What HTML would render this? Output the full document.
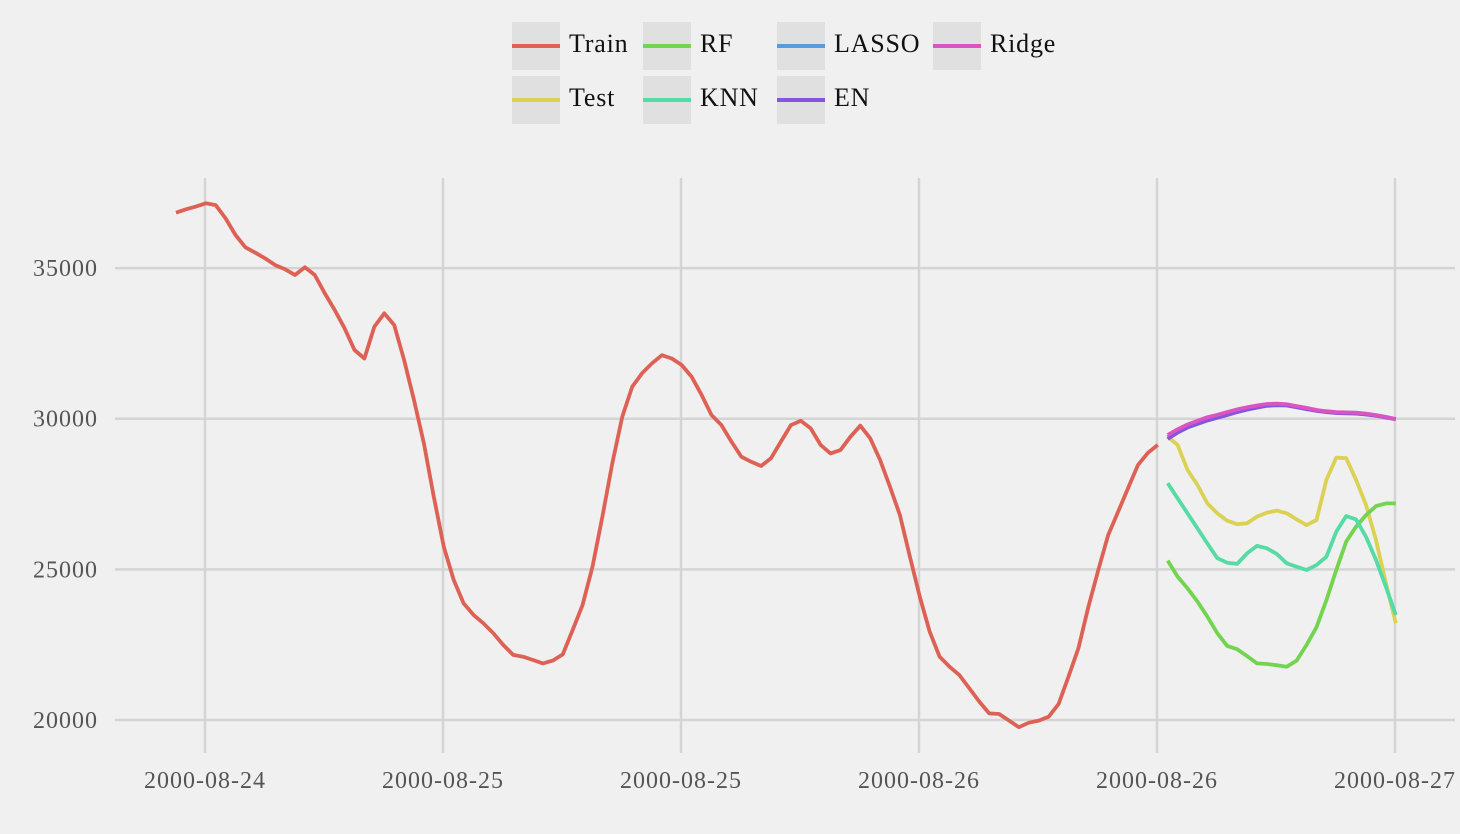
<!DOCTYPE html>
<html><head><meta charset="utf-8"><style>
html,body{margin:0;padding:0;background:#f0f0f0;}
svg{display:block;font-family:"Liberation Serif",serif;}
</style></head><body>
<svg id="chart" width="1460" height="834" viewBox="0 0 1460 834">
<rect x="0" y="0" width="1460" height="834" fill="#f0f0f0"/>
<g id="grid"></g>
<g id="yticks"></g>
<g id="xticks"></g>
<g id="series"></g>
<g id="legend"></g>
</svg>
<script>
const yTicks = [20000, 25000, 30000, 35000];
const xTickLabels = ["2000-08-24","2000-08-25","2000-08-25","2000-08-26","2000-08-26","2000-08-27"];
const train = [36840,36950,37040,37150,37090,36650,36100,35690,35510,35320,35100,34960,34770,35030,34770,34160,33610,33000,32280,32000,33050,33500,33110,31950,30620,29180,27410,25750,24650,23870,23490,23210,
22880,22490,22160,22100,21990,21880,21970,22180,22990,23820,25090,26750,28520,30070,31060,31510,31840,32110,32000,31780,31390,30790,30120,29790,29240,28740,28570,28430,28690,29240,29790,29930,29680,29130,28850,28960,29400,29770,29350,28630,27740,26800,25420,24090,22930,22100,
21770,21490,21050,20610,20220,20200,19980,19760,19910,19980,20110,20530,21440,22380,23760,24980,26140,26910,27690,28460,28870,29130];
const test = [29400,29130,28300,27800,27190,26860,26615,26500,26530,26750,26880,26950,26860,26660,26470,26640,27970,28710,28690,27970,27140,25970,24540,23210];
const rf = [25290,24760,24370,23930,23430,22880,22460,22350,22120,21880,21860,21820,21770,21970,22490,23080,23980,24980,25920,26420,26800,27100,27190,27190];
const knn = [27860,27360,26860,26360,25860,25370,25220,25180,25530,25780,25700,25510,25200,25090,24980,25140,25420,26250,26770,26660,26080,25310,24420,23490];
const lasso = [29390,29590,29760,29880,29990,30080,30170,30260,30340,30400,30460,30470,30460,30400,30340,30270,30230,30200,30190,30180,30150,30110,30050,29980];
const en = [29330,29540,29710,29830,29940,30030,30120,30220,30300,30370,30430,30450,30440,30380,30320,30260,30220,30190,30180,30170,30140,30100,30040,29980];
const ridge = [29460,29650,29810,29930,30050,30130,30220,30310,30380,30440,30490,30500,30480,30420,30360,30290,30250,30220,30210,30200,30170,30120,30060,29990];

const NS = "http://www.w3.org/2000/svg";
const X0 = 176, STEP = 9.917;
const xs = i => X0 + i * STEP;
const ys = v => 720 - (v - 20000) * 0.030127;
const xTickPos = k => 205 + k * 238;
function mk(tag, attrs, parent){const e=document.createElementNS(NS,tag);for(const k in attrs)e.setAttribute(k,attrs[k]);parent.appendChild(e);return e;}

const grid=document.getElementById('grid'), yg=document.getElementById('yticks'), xg=document.getElementById('xticks');
yTicks.forEach(v=>{
  const l=mk('line',{x1:115,x2:1455,y1:ys(v),y2:ys(v),stroke:'#d4d4d4','stroke-width':2.5},grid);
  
  
  const t=mk('text',{x:98,y:ys(v)+8,'text-anchor':'end','font-size':24,'letter-spacing':1,fill:'#555'},yg);
  t.textContent=v;
  
  
});
xTickLabels.forEach((lab,k)=>{
  const x=xTickPos(k);
  const l=mk('line',{x1:x,x2:x,y1:178,y2:753,stroke:'#d4d4d4','stroke-width':2.5},grid);
  
  
  const t=mk('text',{x:x,y:788,'text-anchor':'middle','font-size':24,'letter-spacing':1,fill:'#555'},xg);
  t.textContent=lab;
  
  
});

const sg=document.getElementById('series');
function line(arr, offset, color, name){
  const pts=arr.map((v,i)=>xs(i+offset).toFixed(1)+','+ys(v).toFixed(1)).join(' ');
  const p=mk('polyline',{points:pts,fill:'none',stroke:color,'stroke-width':3.8,'stroke-linejoin':'round'},sg);
  
  
}
line(train,0,'#dd6154','train-line');
line(test,100,'#dbd155','test-line');
line(rf,100,'#72d44f','rf-line');
line(knn,100,'#55dba4','knn-line');
line(lasso,100,'#5a9bdb','lasso-line');
line(en,100,'#8555dd','en-line');
line(ridge,100,'#db55c2','ridge-line');

const lg=document.getElementById('legend');
const legendItems=[["Train","#dd6154",512,22],["Test","#dbd155",512,76],["RF","#72d44f",643,22],["KNN","#55dba4",643,76],["LASSO","#5a9bdb",777,22],["EN","#8555dd",777,76],["Ridge","#db55c2",933,22]];
legendItems.forEach(([lab,col,x,y])=>{
  const g=mk('g',{},lg);
  
  
  mk('rect',{x:x,y:y,width:48,height:48,fill:'#e0e0e0'},g);
  mk('line',{x1:x,x2:x+48,y1:y+24,y2:y+24,stroke:col,'stroke-width':4},g);
  const t=mk('text',{x:x+57,y:y+30,'font-size':26,'letter-spacing':0.8,fill:'#111'},g);
  t.textContent=lab;
});
</script>
</body></html>
